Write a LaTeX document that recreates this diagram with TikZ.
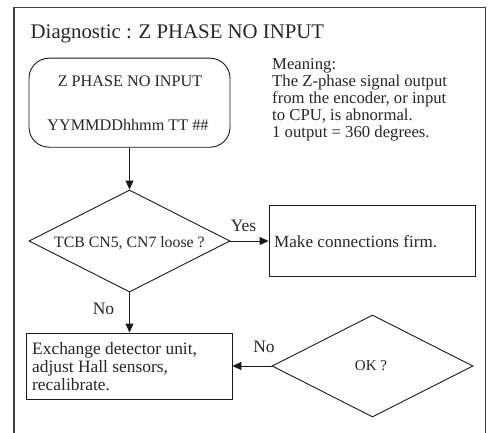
\documentclass[tikz,border=0pt]{standalone}
\usepackage{fontspec}
\setmainfont{Liberation Serif}
\usetikzlibrary{shapes.geometric,arrows.meta}
\begin{document}
\begin{tikzpicture}[x=1pt,y=-1pt,
  frameline/.style={line width=1.1pt, draw=black!75},
  boxline/.style={draw=black!90, line width=0.9pt, inner sep=0pt},
  arr/.style={line width=0.9pt, draw=black!90, -{Triangle[length=9pt,width=8pt]}},
  txt/.style={inner sep=0pt, anchor=base, text=black!85},
  lbl/.style={inner sep=0pt, anchor=base, text=black!85, font=\fontsize{17.5}{20}\selectfont},
]
\useasboundingbox (0,0) rectangle (492,433);
\fill[white] (0,0) rectangle (492,433);
% outer frame (open at the bottom)
\draw[frameline] (14,433) -- (14,7.3) -- (485.5,7.3) -- (485.5,433);

% title and explanation
\node[txt, anchor=base west, font=\fontsize{20.8}{24}\selectfont] (title) at (30.5,38.5) {Diagnostic : Z PHASE NO INPUT};
\node[txt, anchor=base west, align=left, font=\fontsize{16.7}{17}\selectfont] (meaning) at (272,137)
  {Meaning:\\The Z-phase signal output\\from the encoder, or input\\to CPU, is abnormal.\\1 output = 360 degrees.};

% shapes
\node[boxline, rounded corners=20pt, minimum width=201pt, minimum height=89pt] (start) at (129.5,102.7) {};
\node[boxline, diamond, minimum width=201pt, minimum height=102pt] (d1) at (129.5,241) {};
\node[boxline, rectangle, minimum width=206pt, minimum height=71pt] (r1) at (372,240.5) {};
\node[boxline, rectangle, minimum width=206pt, minimum height=66pt] (r2) at (129,366) {};
\node[boxline, diamond, minimum width=201pt, minimum height=102pt] (d2) at (372.5,366) {};

% texts in shapes
\node[txt, font=\fontsize{16.2}{18}\selectfont] (t1) at (130,87) {Z PHASE NO INPUT};
\node[txt, font=\fontsize{16.2}{18}\selectfont] (t2) at (128,130.7) {YYMMDDhhmm TT \#\#};
\node[txt, font=\fontsize{15.8}{18}\selectfont] (td1) at (129.4,247) {TCB CN5, CN7 loose ?};
\node[txt, anchor=base west, font=\fontsize{17.1}{20}\selectfont] (tr1) at (274,247) {Make connections firm.};
\node[txt, anchor=base west, align=left, font=\fontsize{17.4}{18}\selectfont] (tr2) at (32,390)
  {Exchange detector unit,\\adjust Hall sensors,\\recalibrate.};
\node[txt, font=\fontsize{15}{18}\selectfont] (td2) at (371,370) {OK ?};

% connectors
\draw[arr] (start.south) -- (d1.north);
\draw[arr] (d1.east) -- (d1.east -| r1.west);
\draw[arr] (d1.south) -- (d1.south |- r2.north);
\draw[arr] (d2.west) -- (d2.west -| r2.east);

% connector labels
\node[lbl] (yes) at (243.5,231) {Yes};
\node[lbl] (no1) at (103.5,314.5) {No};
\node[lbl] (no2) at (264,352.5) {No};
\end{tikzpicture}
\end{document}
